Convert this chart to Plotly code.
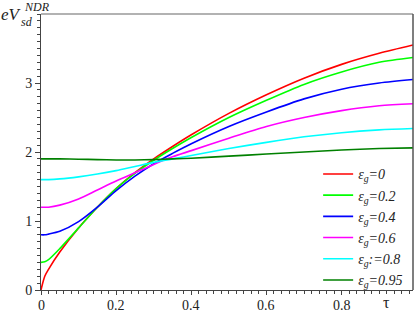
import plotly.graph_objects as go

tau = [0, 0.01, 0.02, 0.05, 0.1, 0.15, 0.2, 0.25, 0.3, 0.35, 0.4, 0.5, 0.6, 0.7, 0.8, 0.9, 0.99]
v_0 = [0, 0.2, 0.3, 0.55, 0.9, 1.2, 1.47, 1.7, 1.9, 2.08, 2.25, 2.56, 2.83, 3.07, 3.27, 3.43, 3.55]
v_02 = [0.4, 0.41, 0.44, 0.6, 0.9, 1.2, 1.47, 1.69, 1.88, 2.05, 2.21, 2.5, 2.75, 2.98, 3.16, 3.3, 3.37]
v_04 = [0.8, 0.8, 0.81, 0.85, 0.99, 1.2, 1.44, 1.65, 1.83, 1.98, 2.12, 2.37, 2.58, 2.77, 2.91, 3.0, 3.05]
v_06 = [1.2, 1.2, 1.2, 1.23, 1.32, 1.45, 1.58, 1.7, 1.82, 1.93, 2.02, 2.2, 2.37, 2.5, 2.6, 2.67, 2.7]
v_08 = [1.6, 1.6, 1.6, 1.61, 1.64, 1.68, 1.73, 1.79, 1.85, 1.9, 1.95, 2.05, 2.14, 2.22, 2.28, 2.32, 2.34]
v_095 = [1.9, 1.9, 1.9, 1.9, 1.895, 1.89, 1.885, 1.885, 1.89, 1.9, 1.91, 1.94, 1.97, 2.0, 2.03, 2.05, 2.06]

series = [
    ("<i>ε<sub>g</sub>=0</i>", v_0, "#ff0000"),
    ("<i>ε<sub>g</sub>=0.2</i>", v_02, "#00ff00"),
    ("<i>ε<sub>g</sub>=0.4</i>", v_04, "#0000ff"),
    ("<i>ε<sub>g</sub>=0.6</i>", v_06, "#ff00ff"),
    ("<i>ε<sub>g</sub>:=0.8</i>", v_08, "#00ffff"),
    ("<i>ε<sub>g</sub>=0.95</i>", v_095, "#008000"),
]

x_ticks = [0, 0.2, 0.4, 0.6, 0.8]
x_ticklabels = ["0", "0.2", "0.4", "0.6", "0.8"]
y_ticks = [0, 1, 2, 3]
y_ticklabels = ["0", "1", "2", "3"]

fig = go.Figure()
for name, vals, col in series:
    fig.add_trace(go.Scatter(x=tau, y=vals, mode="lines", name=name,
                             line=dict(color=col, width=1.6, shape="spline", smoothing=0.8)))

serif = "Liberation Serif"
annotations = [
    dict(text=lab, xref="x", yref="paper", x=v, y=-0.022, xanchor="center",
         yanchor="top", showarrow=False, font=dict(family=serif, size=14, color="#222"))
    for v, lab in zip(x_ticks, x_ticklabels)
]
annotations += [
    dict(text="τ", xref="paper", yref="paper", x=0.93, y=-0.045, xanchor="center",
         yanchor="middle", showarrow=False, font=dict(family=serif, size=16, color="#222")),
    dict(text="<i>eV</i>", xref="paper", yref="paper", x=-0.112, y=1.0, xanchor="left",
         yanchor="middle", showarrow=False, font=dict(family=serif, size=17, color="#222")),
    dict(text="<i>NDR</i>", xref="paper", yref="paper", x=-0.05, y=1.027, xanchor="left",
         yanchor="middle", showarrow=False, font=dict(family=serif, size=12, color="#222")),
    dict(text="<i>sd</i>", xref="paper", yref="paper", x=-0.06, y=0.97, xanchor="left",
         yanchor="middle", showarrow=False, font=dict(family=serif, size=12, color="#222")),
]

fig.update_layout(
    width=415, height=314,
    margin=dict(l=41, r=2, t=14, b=24),
    paper_bgcolor="white", plot_bgcolor="white",
    font=dict(family=serif, size=14, color="#222"),
    showlegend=True,
    legend=dict(x=0.745, y=0.477, xanchor="left", yanchor="top",
                bgcolor="rgba(0,0,0,0)", font=dict(family=serif, size=14, color="#222"),
                itemwidth=30, tracegroupgap=0),
    xaxis=dict(range=[0, 0.99], showgrid=False, zeroline=False,
               showline=True, linecolor="#444", linewidth=1,
               ticks="outside", ticklen=4, tickcolor="#444",
               tickvals=x_ticks, showticklabels=False,
               minor=dict(dtick=0.02, ticks="outside", ticklen=3, tickcolor="#444")),
    yaxis=dict(range=[0, 4], showgrid=False, zeroline=False,
               showline=True, linecolor="#444", linewidth=1,
               ticks="outside", ticklen=5, tickcolor="#444",
               tickvals=y_ticks, ticktext=y_ticklabels,
               tickfont=dict(family=serif, size=14, color="#222"),
               minor=dict(dtick=0.1, ticks="outside", ticklen=3, tickcolor="#444")),
    shapes=[
        dict(type="line", xref="paper", yref="paper", x0=0, x1=1, y0=1, y1=1,
             line=dict(color="#999", width=1.5)),
        dict(type="line", xref="paper", yref="paper", x0=1, x1=1, y0=0, y1=1,
             line=dict(color="#555", width=1.5)),
    ],
    annotations=annotations,
)

# remove the browser's default 8 px body margin so the figure fills the window
fig.write_html("out.html", config={"displayModeBar": False},
               post_script="document.body.style.margin='0';")
